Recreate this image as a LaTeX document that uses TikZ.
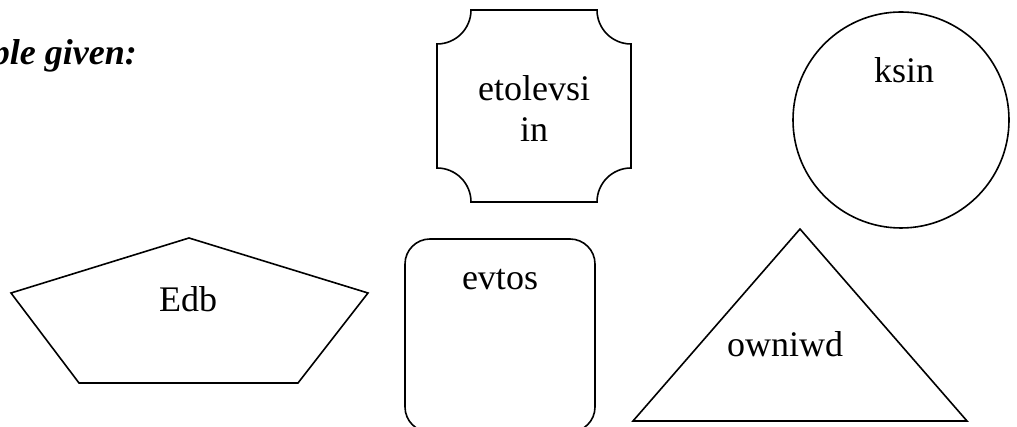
\documentclass[tikz,border=0pt]{standalone}
\usepackage{fontspec}
\setmainfont{Liberation Serif}
\begin{document}
\begin{tikzpicture}[x=1pt,y=1pt,
  shapeline/.style={draw=black,line width=1.6pt,line join=miter},
  lbl/.style={font=\fontsize{36}{41.4}\selectfont,inner sep=0pt},
  titletext/.style={font=\fontsize{36}{41.4}\selectfont\bfseries\itshape,inner sep=0pt}]
\clip (0,0) rectangle (1017,427);
\useasboundingbox (0,0) rectangle (1017,427);
% title
\node[titletext,anchor=base east] (title) at (137,362) {ple given:};
% plaque shape
\draw[shapeline] (471,417) -- (597,417)
  arc[start angle=180,end angle=270,radius=34] -- (631,259)
  arc[start angle=90,end angle=180,radius=34] -- (471,225)
  arc[start angle=0,end angle=90,radius=34] -- (437,383)
  arc[start angle=270,end angle=360,radius=34] -- cycle;
\node[lbl,align=center,anchor=base] (plaque) at (534,285) {etolevsi\\in};
% circle
\node[shapeline,circle,minimum size=216pt,inner sep=0pt] (circ) at (901,307) {};
\node[lbl,anchor=base] (ksin) at (904,344) {ksin};
% pentagon
\draw[shapeline] (189,189) -- (368,134) -- (298,44) -- (79,44) -- (11,134) -- cycle;
\node[lbl,anchor=base] (edb) at (188,115) {Edb};
% rounded rectangle
\draw[shapeline,rounded corners=25pt] (405,-5) rectangle (595,188);
\node[lbl,anchor=base] (evtos) at (500,137) {evtos};
% triangle
\draw[shapeline] (800,198) -- (967,6) -- (633,6) -- cycle;
\node[lbl,anchor=base] (owniwd) at (785,70) {owniwd};
\end{tikzpicture}
\end{document}
